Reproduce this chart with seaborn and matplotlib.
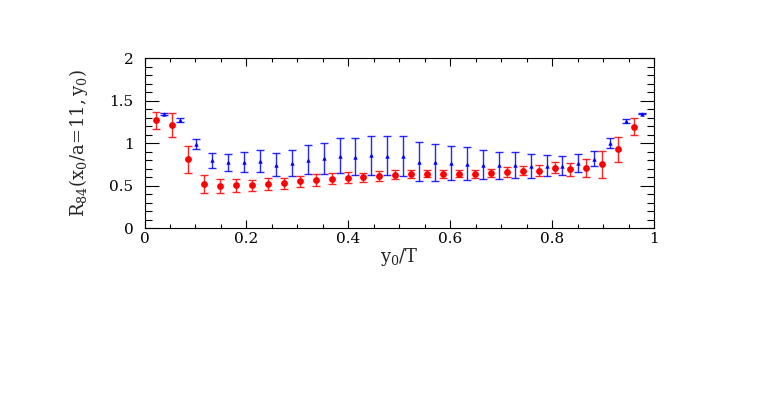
import numpy as np
import pandas as pd
import matplotlib
matplotlib.use("Agg")
import matplotlib.pyplot as plt
import seaborn as sns
from matplotlib.ticker import MultipleLocator

# time slices y0/a = 1..31 on a T = 32 lattice
T = 32
slices = np.arange(1, 32)

red_vals = [1.27, 1.215, 0.81, 0.52, 0.496, 0.504, 0.504, 0.52, 0.531, 0.551,
            0.571, 0.583, 0.594, 0.598, 0.618, 0.63, 0.634, 0.642, 0.638, 0.642,
            0.638, 0.646, 0.657, 0.677, 0.677, 0.709, 0.693, 0.705, 0.752, 0.93,
            1.193]
red_errs = [0.10, 0.14, 0.16, 0.107, 0.084, 0.076, 0.063, 0.065, 0.065, 0.069,
            0.069, 0.063, 0.063, 0.055, 0.057, 0.051, 0.045, 0.045, 0.043, 0.045,
            0.047, 0.049, 0.06, 0.055, 0.063, 0.065, 0.079, 0.104, 0.16, 0.148,
            0.10]

blue_vals = [1.34, 1.273, 0.988, 0.80, 0.777, 0.781, 0.788, 0.749, 0.768, 0.808,
             0.82, 0.855, 0.843, 0.859, 0.851, 0.847, 0.784, 0.776, 0.768, 0.76,
             0.749, 0.741, 0.741, 0.729, 0.737, 0.737, 0.768, 0.816, 1.0, 1.26,
             1.347]
blue_errs = [0.01, 0.02, 0.057, 0.086, 0.10, 0.117, 0.126, 0.14, 0.15, 0.167,
             0.18, 0.205, 0.22, 0.23, 0.23, 0.236, 0.225, 0.22, 0.2, 0.193,
             0.175, 0.16, 0.15, 0.14, 0.124, 0.11, 0.105, 0.089, 0.059, 0.026,
             0.01]

# the two data sets are shifted by a quarter slice so they do not overlap
shift = 0.25 / T
red = pd.DataFrame({"x": slices / T - shift, "y": red_vals, "err": red_errs})
blue = pd.DataFrame({"x": slices / T + shift, "y": blue_vals, "err": blue_errs})

sns.set_style("ticks")
plt.rcParams["font.family"] = ["DejaVu Serif"]
plt.rcParams["mathtext.fontset"] = "dejavuserif"

fig = plt.figure(figsize=(7.7, 3.99), dpi=100)
ax = fig.add_axes([0.1877, 0.4278, 0.6617, 0.4268])

ax.errorbar(blue["x"], blue["y"], yerr=blue["err"], fmt="none", ecolor="#0000ff",
            elinewidth=1.0, capsize=2.6, capthick=1.0, alpha=0.85)
ax.errorbar(red["x"], red["y"], yerr=red["err"], fmt="none", ecolor="#ff0000",
            elinewidth=1.0, capsize=2.6, capthick=1.0, alpha=0.85)
sns.scatterplot(data=blue, x="x", y="y", ax=ax, color="#0000ff", marker="^",
                s=10, linewidth=0, legend=False, zorder=3)
sns.scatterplot(data=red, x="x", y="y", ax=ax, color="#ff0000", marker="o",
                s=24, linewidth=0, legend=False, zorder=3)

ax.set_xlim(0, 1)
ax.set_ylim(0, 2)
ax.xaxis.set_major_locator(MultipleLocator(0.2))
ax.xaxis.set_minor_locator(MultipleLocator(0.05))
ax.yaxis.set_major_locator(MultipleLocator(0.5))
ax.yaxis.set_minor_locator(MultipleLocator(0.1))
ax.set_xticks([0, 0.2, 0.4, 0.6, 0.8, 1.0])
ax.set_xticklabels(["0", "0.2", "0.4", "0.6", "0.8", "1"])
ax.set_yticks([0, 0.5, 1.0, 1.5, 2.0])
ax.set_yticklabels(["0", "0.5", "1", "1.5", "2"])

ax.tick_params(axis="both", which="both", direction="in", top=True, right=True,
               width=0.8, colors="black", labelsize=11)
ax.tick_params(axis="x", which="major", length=6, pad=3)
ax.tick_params(axis="x", which="minor", length=3)
ax.tick_params(axis="y", which="major", length=10, pad=8)
ax.tick_params(axis="y", which="minor", length=5)
for sp in ax.spines.values():
    sp.set_linewidth(0.8)
    sp.set_color("black")

ax.set_xlabel(r"$\mathrm{y_0/T}$", fontsize=13, labelpad=0)
ax.set_ylabel(r"$\mathrm{R_{84}(x_0/a\!=\!11,y_0)}$", fontsize=13, labelpad=14)

fig.savefig("out.png", dpi=100)
